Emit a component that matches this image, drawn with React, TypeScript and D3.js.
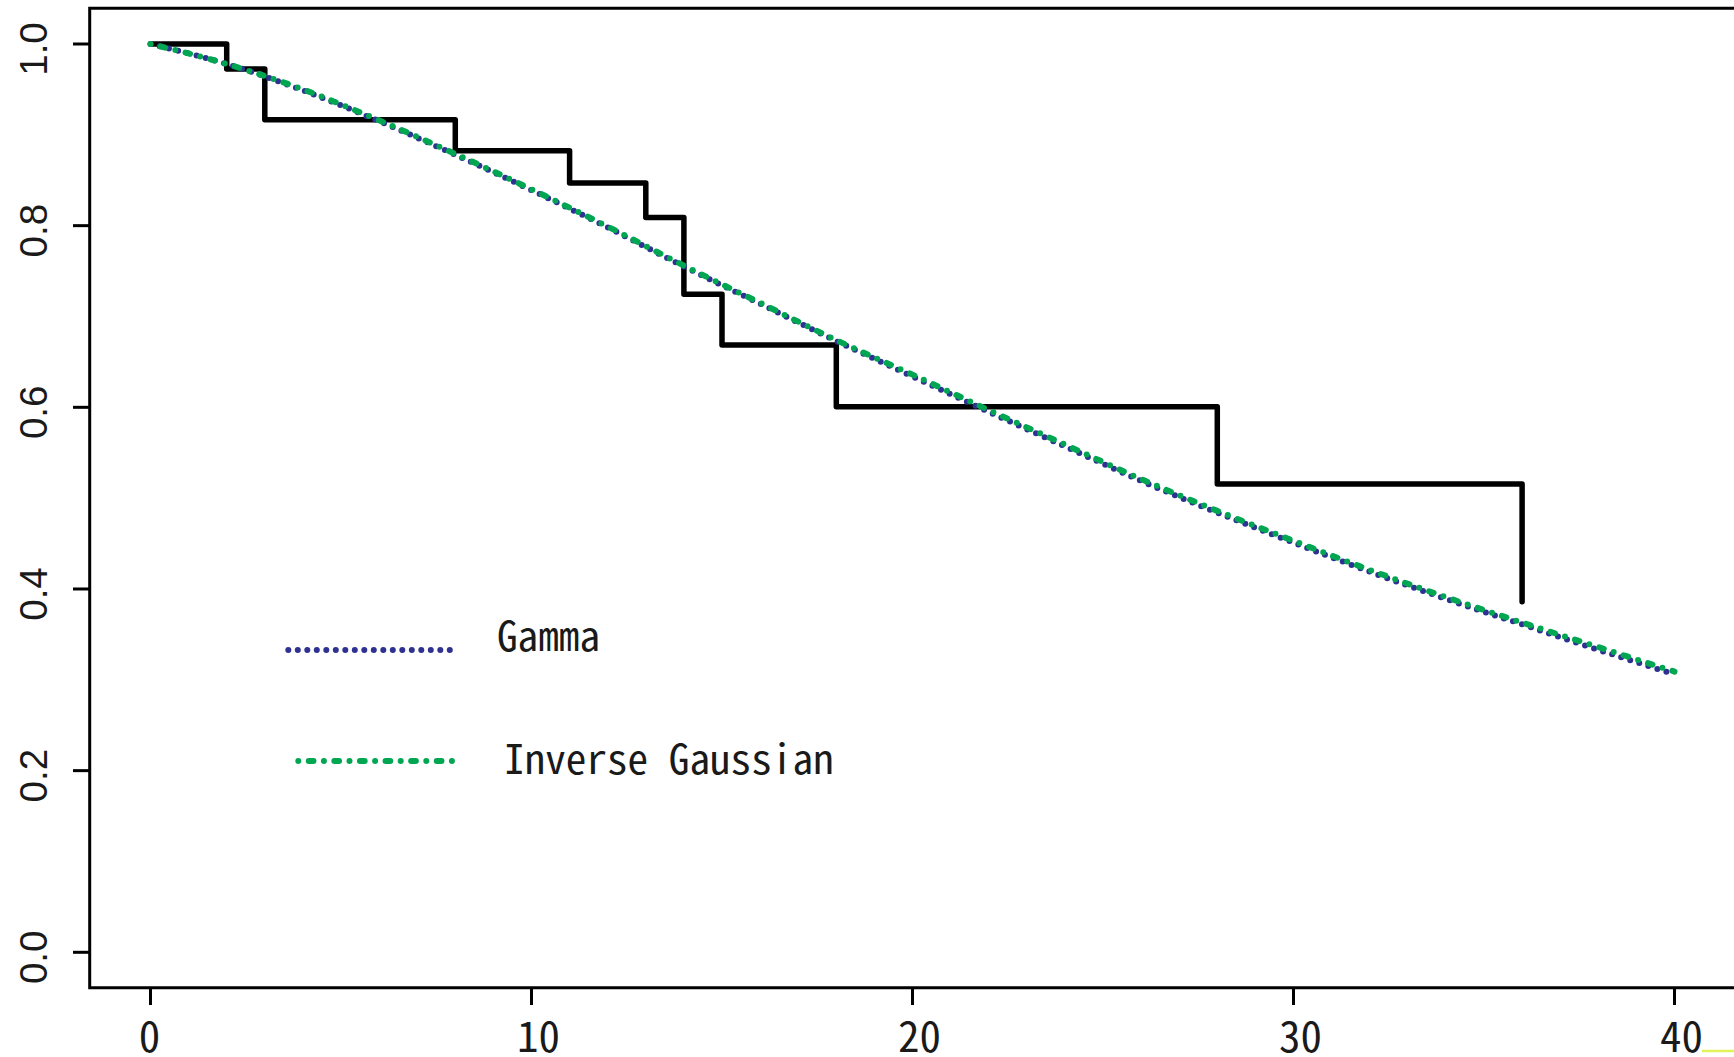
import React from "react";
import * as d3 from "d3";

// ---- data ----
const kmTimes = [0, 2, 3, 8, 11, 13, 14, 15, 18, 28, 36];
const kmSurv = [1.0, 0.9725, 0.9165, 0.8825, 0.847, 0.809, 0.7246, 0.6686, 0.6007, 0.5156, 0.386];
const kmEnd = 36;

const fitTimes = [0, 2, 4, 6, 8, 10, 12, 14, 16, 18, 20, 22, 24, 26, 28, 30, 32, 34, 36, 38, 40];
const gammaSurv = [1.0, 0.978, 0.949, 0.915, 0.878, 0.839, 0.798, 0.755, 0.714, 0.673, 0.634, 0.595, 0.557, 0.519, 0.484, 0.451, 0.419, 0.389, 0.361, 0.333, 0.306];
const invGaussSurv = [1.0, 0.978, 0.950, 0.916, 0.879, 0.840, 0.799, 0.756, 0.715, 0.674, 0.636, 0.597, 0.559, 0.521, 0.486, 0.453, 0.421, 0.391, 0.363, 0.336, 0.309];

const xTicks = [0, 10, 20, 30, 40];
const yTicks = [0.0, 0.2, 0.4, 0.6, 0.8, 1.0];

const legendLabels = ["Gamma", "Inverse Gaussian"];
const legendColors = ["#2E3192", "#00A651"];

export default function App() {
  const W = 1734;
  const H = 1057;
  const x = d3.scaleLinear().domain([0, 40]).range([150.5, 1674.5]);
  const y = d3.scaleLinear().domain([0, 1]).range([952.3, 44]);

  // KM step path
  const kmPts: [number, number][] = kmTimes.map((t, i) => [t, kmSurv[i]]);
  const stepLine = d3
    .line<[number, number]>()
    .x((d) => x(d[0]))
    .y((d) => y(d[1]))
    .curve(d3.curveStepAfter);
  const kmPath =
    stepLine([
      ...kmPts.slice(0, -1),
      [kmEnd, kmSurv[kmSurv.length - 2]],
      [kmEnd, kmSurv[kmSurv.length - 1]],
    ]) || "";

  const smooth = d3
    .line<number>()
    .x((_, i) => x(fitTimes[i]))
    .y((d) => y(d))
    .curve(d3.curveMonotoneX);
  const gammaPath = smooth(gammaSurv) || "";
  const igPath = smooth(invGaussSurv) || "";

  const gammaDash = "0 9.5";
  const igDash = "0 10.45 4.7 10.45";

  const boxLeft = 89.7;
  const boxTop = 8.3;
  const boxBottom = 987.7;

  const monoFont = "'Noto Sans Mono CJK JP', 'DejaVu Sans Mono', monospace";

  return (
    <svg
      width={W}
      height={H}
      style={{ position: "absolute", left: 0, top: 0, display: "block", background: "#fff" }}
    >
      <rect x={0} y={0} width={W} height={H} fill="#fff" />
      {/* plot box (right edge cropped outside image) */}
      <path
        d={`M${W + 10},${boxTop} H${boxLeft} V${boxBottom} H${W + 10}`}
        fill="none"
        stroke="#000"
        strokeWidth={3}
      />
      {/* y ticks */}
      {yTicks.map((v) => (
        <g key={"yt" + v}>
          <line x1={73} x2={boxLeft} y1={y(v)} y2={y(v)} stroke="#000" strokeWidth={3} />
          <text
            x={46.7}
            y={y(v) + 5}
            transform={`rotate(-90, 46.7, ${y(v) + 5})`}
            textAnchor="middle"
            fontFamily="'Liberation Sans', Arial, sans-serif"
            fontSize={38.5}
            fill="#1a1a1a"
          >
            {v.toFixed(1)}
          </text>
        </g>
      ))}
      {/* x ticks */}
      {xTicks.map((v) => {
        const s = String(v);
        return (
          <g key={"xt" + v}>
            <line x1={x(v)} x2={x(v)} y1={boxBottom} y2={1005} stroke="#000" strokeWidth={3} />
            <text
              x={x(v) + (v === 0 ? -1 : 7)}
              y={1051.5}
              textAnchor="middle"
              fontFamily={monoFont}
              fontSize={42}
              textLength={21.5 * s.length}
              lengthAdjust="spacingAndGlyphs"
              fill="#1a1a1a"
            >
              {s}
            </text>
          </g>
        );
      })}

      {/* Kaplan-Meier step curve */}
      <path d={kmPath} fill="none" stroke="#000" strokeWidth={5.5} strokeLinejoin="round" strokeLinecap="round" />

      {/* fitted curves */}
      <path d={gammaPath} fill="none" stroke={legendColors[0]} strokeWidth={6} strokeDasharray={gammaDash} strokeLinecap="round" />
      <path d={igPath} fill="none" stroke={legendColors[1]} strokeWidth={6} strokeDasharray={igDash} strokeLinecap="round" />

      {/* legend */}
      <line x1={288.3} x2={450.2} y1={650} y2={650} stroke={legendColors[0]} strokeWidth={6} strokeDasharray={gammaDash} strokeLinecap="round" />
      <text
        x={497}
        y={650.5}
        fontFamily={monoFont}
        fontSize={41}
        textLength={20.6 * legendLabels[0].length}
        lengthAdjust="spacingAndGlyphs"
        fill="#1a1a1a"
      >
        {legendLabels[0]}
      </text>
      <line x1={298.3} x2={451.9} y1={761} y2={761} stroke={legendColors[1]} strokeWidth={6} strokeDasharray={igDash} strokeLinecap="round" />
      <text
        x={504}
        y={774}
        fontFamily={monoFont}
        fontSize={41}
        textLength={20.6 * legendLabels[1].length}
        lengthAdjust="spacingAndGlyphs"
        fill="#1a1a1a"
      >
        {legendLabels[1]}
      </text>

      {/* small yellow-green mark at bottom right */}
      <line x1={1702} x2={W} y1={1051} y2={1051} stroke="#e2f25a" strokeWidth={2.5} />
    </svg>
  );
}
